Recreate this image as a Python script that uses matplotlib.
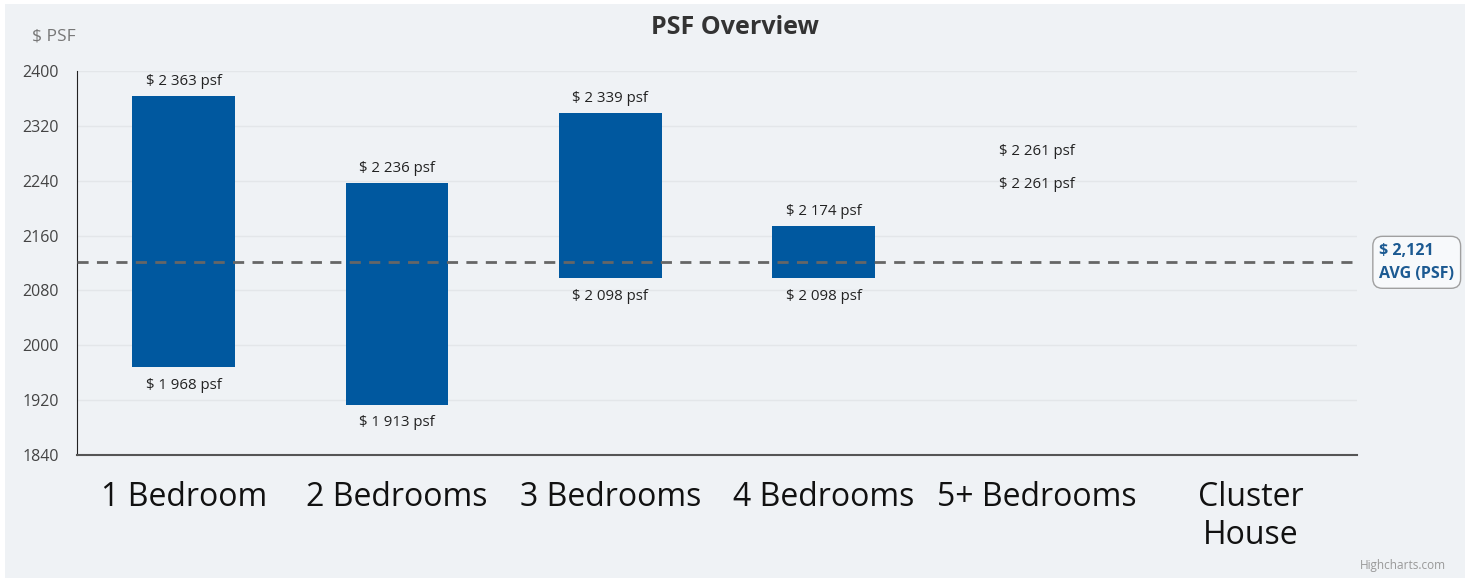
import matplotlib.pyplot as plt
from matplotlib.patches import Rectangle

plt.rcParams['font.family'] = ['Open Sans', 'DejaVu Sans']

# dati
categorie = ['1 Bedroom', '2 Bedrooms', '3 Bedrooms', '4 Bedrooms', '5+ Bedrooms', 'Cluster\nHouse']
psf_min = [1968, 1913, 2098, 2098, 2261, None]
psf_max = [2363, 2236, 2339, 2174, 2261, None]
psf_medio = 2121
y_ticks = [1840, 1920, 2000, 2080, 2160, 2240, 2320, 2400]

BLU = '#00589f'
SFONDO = '#eff2f5'


def formatta(v):
    return "$ " + f"{v:,}".replace(",", " ") + " psf"


fig = plt.figure(figsize=(14.69, 5.78), dpi=100, facecolor='white')
fig.patches.append(Rectangle((5 / 1469, 0), 1460 / 1469, 574 / 578,
                             transform=fig.transFigure, facecolor=SFONDO,
                             edgecolor='none', zorder=-10))

ax = fig.add_axes([77 / 1469, 1 - 455 / 578, 1280 / 1469, 384 / 578])
ax.patch.set_alpha(0)

x = list(range(len(categorie)))
for i, (lo, hi) in enumerate(zip(psf_min, psf_max)):
    if lo is None:
        continue
    ax.bar(i, hi - lo, bottom=lo, width=0.48, color=BLU, edgecolor='none', zorder=3)
    ax.annotate(formatta(hi), (i, hi), xytext=(0, 10.5), textcoords='offset points',
                ha='center', va='center', fontsize=10.8, color='#222222', zorder=4)
    ax.annotate(formatta(lo), (i, lo), xytext=(0, -13), textcoords='offset points',
                ha='center', va='center', fontsize=10.8, color='#222222', zorder=4)

# linea media
ax.axhline(psf_medio, color='#666666', lw=2, ls=(0, (4, 3)), zorder=5)
ax.annotate(f"$ {psf_medio:,}\nAVG (PSF)", xy=(1, psf_medio), xycoords=('axes fraction', 'data'),
            xytext=(16, 0), textcoords='offset points', ha='left', va='center',
            fontsize=11.5, fontweight='bold', color='#1c5a92', linespacing=1.6,
            bbox=dict(boxstyle='round,pad=0.4,rounding_size=0.6', fc='#f7f9fb', ec='#a0a0a0', lw=1),
            annotation_clip=False)

ax.set_xlim(-0.5, len(categorie) - 0.5)
ax.set_ylim(1840, 2400)
ax.set_yticks(y_ticks)
ax.set_xticks(x)
ax.set_xticklabels(categorie, fontsize=23, color='#111111', linespacing=1.2)
ax.tick_params(axis='x', length=0, pad=19)
ax.tick_params(axis='y', length=0, labelsize=11.5, labelcolor='#444444', pad=13)
ax.grid(axis='y', color='#e3e6e9', lw=1, zorder=0)

for s in ['top', 'right']:
    ax.spines[s].set_visible(False)
ax.spines['left'].set_color('#222222')
ax.spines['bottom'].set_color('#555555')
ax.spines['bottom'].set_linewidth(1.5)

fig.text(735 / 1469, 1 - 28 / 578, "PSF Overview", ha='center', va='center',
         fontsize=18, fontweight='bold', color='#333333')
fig.text(54 / 1469, 1 - 36 / 578, "$ PSF", ha='center', va='center',
         fontsize=12.5, color='#777777')
fig.text(1403 / 1469, 1 - 566 / 578, "Highcharts.com", ha='center', va='center',
         fontsize=8.5, color='#999999')

fig.savefig('out.png', dpi=100, facecolor='white')
